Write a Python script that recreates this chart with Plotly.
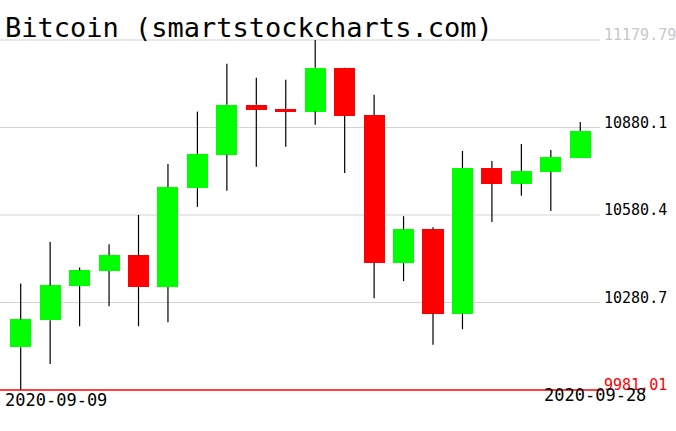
import plotly.graph_objects as go

# daily OHLC
dates = [
    "2020-09-09", "2020-09-10", "2020-09-11", "2020-09-12", "2020-09-13",
    "2020-09-14", "2020-09-15", "2020-09-16", "2020-09-17", "2020-09-18",
    "2020-09-19", "2020-09-20", "2020-09-21", "2020-09-22", "2020-09-23",
    "2020-09-24", "2020-09-25", "2020-09-26", "2020-09-27", "2020-09-28",
]
opens = [10127.3, 10220.1, 10336.9, 10388.4, 10442.3, 10333.4, 10672.5, 10786.9, 10957.6, 10943.8,
         10934.6, 11084.7, 10923.2, 10415.9, 10531.6, 10242.0, 10741.2, 10687.2, 10728.5, 10776.5]
highs = [10346.1, 10488.0, 10401.0, 10480.1, 10580.8, 10754.9, 10934.6, 11098.4, 11050.3, 11043.5,
         11179.79, 11086.0, 10991.9, 10576.3, 10538.5, 10799.6, 10765.2, 10823.6, 10803.0, 10899.2]
lows = [9981.01, 10070.3, 10199.5, 10268.2, 10199.5, 10213.2, 10608.2, 10663.2, 10745.6, 10814.3,
        10889.9, 10724.0, 10295.6, 10354.0, 10135.6, 10189.2, 10556.7, 10646.0, 10594.5, 10776.0]
closes = [10222.5, 10339.3, 10390.8, 10442.3, 10333.4, 10675.9, 10789.3, 10957.6, 10941.4, 10934.6,
          11084.7, 10920.8, 10415.9, 10531.6, 10242.0, 10741.2, 10687.2, 10730.9, 10779.0, 10868.3]

levels = [9981.01, 10280.7, 10580.4, 10880.1, 11179.79]
level_labels = ["9981.01", "10280.7", "10580.4", "10880.1", "11179.79"]

TITLE = "Bitcoin (smartstockcharts.com)"
MONO = "DejaVu Sans Mono"
GREEN = "#00FF00"
RED = "#FF0000"

# wicks: drawn as two pieces so they stay behind the bodies
wx, wy = [], []
for d, o, h, l, c in zip(dates, opens, highs, lows, closes):
    top, bot = max(o, c), min(o, c)
    wx += [d, d, None, d, d, None]
    wy += [h, top, None, bot, l, None]

fig = go.Figure()
fig.add_trace(go.Scatter(
    x=wx, y=wy, mode="lines",
    line=dict(color="black", width=1.2),
    hoverinfo="skip",
))
fig.add_trace(go.Bar(
    x=dates,
    base=[min(o, c) for o, c in zip(opens, closes)],
    y=[abs(c - o) for o, c in zip(opens, closes)],
    width=0.715,
    marker_color=[GREEN if c >= o else RED for o, c in zip(opens, closes)],
    marker_line_width=0,
))

shapes = []
for v in levels[1:]:
    shapes.append(dict(
        type="line", xref="paper", yref="y", x0=0, x1=1.0, y0=v, y1=v,
        line=dict(color="#D3D3D3", width=1), layer="below",
    ))
shapes.append(dict(
    type="line", xref="paper", yref="y", x0=0, x1=1.005, y0=min(lows), y1=min(lows),
    line=dict(color=RED, width=1.3), layer="above",
))

label_colors = [RED, "black", "black", "black", "#C8C8C8"]
annotations = [
    dict(text=t, x=1, xref="paper", y=v, yref="y", xanchor="left", yanchor="middle",
         xshift=2, yshift=5, showarrow=False,
         font=dict(family=MONO, size=15, color=col))
    for v, t, col in zip(levels, level_labels, label_colors)
]
annotations += [
    dict(text=TITLE, x=0, xref="paper", y=1, yref="paper", xanchor="left", yanchor="middle",
         xshift=3, yshift=11, showarrow=False,
         font=dict(family=MONO, size=27, color="black")),
    dict(text=dates[0], x=0, xref="paper", y=0, yref="paper", xanchor="left", yanchor="middle",
         xshift=3, yshift=-8, showarrow=False,
         font=dict(family=MONO, size=17, color="black")),
    dict(text=dates[-1], x=1, xref="paper", y=0, yref="paper", xanchor="right", yanchor="middle",
         xshift=48, yshift=-3, showarrow=False,
         font=dict(family=MONO, size=17, color="black")),
]

# 2 px of headroom so the edge lines are not clipped
ypad = 2 * (levels[-1] - levels[0]) / 350

fig.update_layout(
    width=676, height=431,
    margin=dict(l=0, r=76, t=38, b=39),
    plot_bgcolor="white", paper_bgcolor="white",
    showlegend=False,
    bargap=0,
    xaxis=dict(type="category", range=[-0.703, 19.67], visible=False, fixedrange=True),
    yaxis=dict(range=[levels[0] - ypad, levels[-1] + ypad], visible=False,
               showgrid=False, zeroline=False),
    shapes=shapes,
    annotations=annotations,
)

fig.write_html("out.html", config={"displayModeBar": False},
               post_script="document.body.style.margin='0';")
